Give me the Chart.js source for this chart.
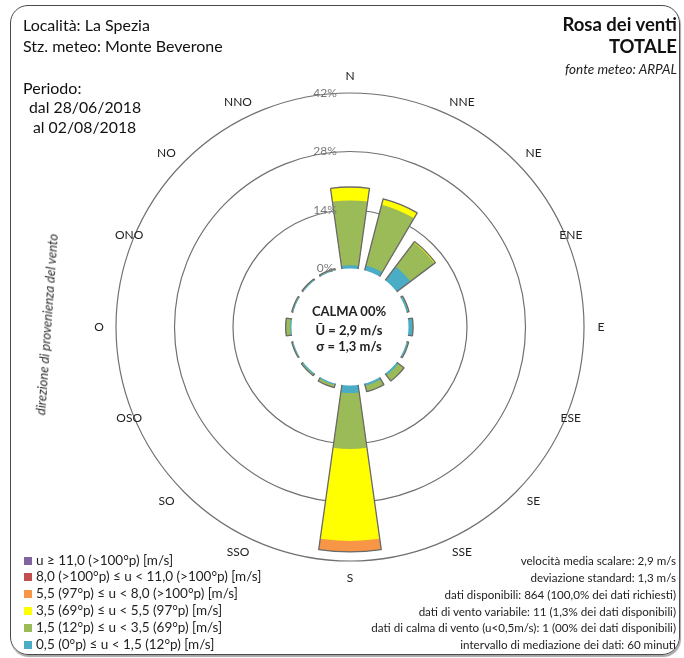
<!DOCTYPE html>
<html><head><meta charset="utf-8">
<script src="https://cdn.jsdelivr.net/npm/chart.js@4/dist/chart.umd.min.js"></script>
<style>
html,body{margin:0;padding:0;background:#fff;}
body{width:684px;height:658px;position:relative;overflow:hidden;font-family:Lato,"Noto Sans",sans-serif;color:#111;}
#frame{position:absolute;left:10px;top:5px;width:668px;height:648px;border:1.5px solid #4a4a4a;border-radius:18px;box-shadow:1px 2px 1px rgba(0,0,0,0.35);}
#c{position:absolute;left:0;top:0;}
.t{position:absolute;white-space:nowrap;line-height:1;}
.sq{display:inline-block;width:8px;height:8px;margin-right:4px;vertical-align:0px;}
</style></head><body>
<div id="frame"></div>
<canvas id="c" width="684" height="658"></canvas>
<div id="texts"></div>
<script>
// ---------- data ----------
const directions = ['N','NNE','NE','ENE','E','ESE','SE','SSE','S','SSO','SO','OSO','O','ONO','NO','NNO'];
const speed_05_15 = [0.8,1.2,4.1,0.4,1.0,0.3,0.5,0.5,1.8,0.3,0.3,0.2,0.3,0.2,0.2,0.2];
const speed_15_35 = [15.5,15.0,7.2,0.2,0.1,0.2,1.7,1.5,13.4,0.7,0.3,0.2,1.1,0.2,0.2,0.2];
const speed_35_55 = [3.2,1.5,0.3,0,0,0,0,0,22.0,0,0,0,0,0,0,0];
const speed_55_80 = [0,0,0,0,0,0,0,0,2.6,0,0,0,0,0,0,0];
const speed_80_110 = [0,0,0,0,0,0,0,0,0,0,0,0,0,0,0,0];
const speed_110 = [0,0,0,0,0,0,0,0,0,0,0,0,0,0,0,0];
const radialTicks = [0,14,28,42];
const classLabels = [
  'u \u2265 11,0 (>100\u00b0p) [m/s]',
  '8,0 (>100\u00b0p) \u2264 u < 11,0 (>100\u00b0p) [m/s]',
  '5,5 (97\u00b0p) \u2264 u < 8,0 (>100\u00b0p) [m/s]',
  '3,5 (69\u00b0p) \u2264 u < 5,5 (97\u00b0p) [m/s]',
  '1,5 (12\u00b0p) \u2264 u < 3,5 (69\u00b0p) [m/s]',
  '0,5 (0\u00b0p) \u2264 u < 1,5 (12\u00b0p) [m/s]'
];
const statsLines = [
  'velocit\u00e0 media scalare: 2,9 m/s',
  'deviazione standard: 1,3 m/s',
  'dati disponibili: 864 (100,0% dei dati richiesti)',
  'dati di vento variabile: 11 (1,3% dei dati disponibili)',
  'dati di calma di vento (u<0,5m/s): 1 (00% dei dati disponibili)',
  'intervallo di mediazione dei dati: 60 minuti'
];

// ---------- styles ----------
const classColors = ['#8064a2','#c0504d','#f79646','#ffff00','#9bbb59','#4bacc6']; // legend order (top->bottom)
const BAR_DEG = 16, GAP_DEG = 22.5 - 16;

// classes from slowest to fastest
const classes = [speed_05_15, speed_15_35, speed_35_55, speed_55_80, speed_80_110, speed_110];
const fillColors = ['#4bacc6','#9bbb59','#ffff00','#f79646','#c0504d','#8064a2'];

// cumulative (stacked) values, with empty slots between bars for angular gaps
function slots(arr){ const out=[]; arr.forEach(v=>{out.push(v); out.push(null);}); return out; }
const cumulative = [];
classes.forEach((c,k)=>{
  cumulative.push(c.map((v,i)=> classes.slice(0,k+1).reduce((s,a)=>s+a[i],0)));
});
const totals = cumulative[cumulative.length-1];

const labels = [];
directions.forEach(d=>{labels.push(d); labels.push('');});

const datasets = [{
  data: slots(totals), backgroundColor:'rgba(0,0,0,0)', borderColor:'#6a6a6a', borderWidth:1.3
}];
cumulative.forEach((cum,k)=>{
  datasets.push({data: slots(cum), backgroundColor: fillColors[k], borderWidth:0});
});

const rosePlugin = {
  id:'roseDecor',
  afterDatasetsDraw(chart){
    const s = chart.scales.r, ctx = chart.ctx;
    const r0 = s.getDistanceFromCenterForValue(0);
    ctx.save();
    ctx.beginPath(); ctx.arc(s.xCenter, s.yCenter, r0, 0, Math.PI*2);
    ctx.fillStyle = '#ffffff'; ctx.fill();
    ctx.restore();
  },
  afterDraw(chart){
    const s = chart.scales.r, ctx = chart.ctx;
    ctx.save();
    ctx.font = '12px Lato, "Noto Sans", sans-serif';
    ctx.fillStyle = '#7a7a7a';
    ctx.textAlign = 'center'; ctx.textBaseline = 'middle';
    radialTicks.forEach(v=>{
      ctx.fillText(v + '%', s.xCenter - 25, s.yCenter - s.getDistanceFromCenterForValue(v));
    });
    ctx.font = '12px Lato, "Noto Sans", sans-serif';
    ctx.fillStyle = '#222';
    directions.forEach((d,i)=>{
      let deg = i*22.5;
      const m = i % 8;
      let r = s.drawingArea + 17;
      if (m===3 || m===5) r = s.drawingArea + 5;           // ENE, ESE, OSO, ONO
      if (m===1 || m===7) {                                 // NNE, SSE, SSO, NNO: spread away from N-S axis
        const sideRight = (i < 8);
        const towardTop = (i < 4 || i > 12);
        deg += (sideRight === towardTop) ? 4 : -4;
      }
      if (m===2 || m===6) { deg += ((i < 8) === (i < 4 || i > 12)) ? 1.5 : -1.5; r += 2; }
      const a = deg*Math.PI/180;
      ctx.fillText(d, s.xCenter + r*Math.sin(a), s.yCenter - r*Math.cos(a));
    });
    ctx.restore();
  }
};

new Chart(document.getElementById('c'), {
  type:'polarArea',
  data:{labels, datasets},
  options:{
    responsive:false, animation:false,
    layout:{padding:{left:116,right:100,top:93,bottom:97}},
    datasets:{polarArea:{angle: ctx => (ctx.dataIndex % 2 === 0 ? BAR_DEG : GAP_DEG)}},
    plugins:{legend:{display:false}, tooltip:{enabled:false}},
    scales:{r:{
      min:-14, max:42, startAngle:-BAR_DEG/2,
      ticks:{stepSize:14, display:false},
      grid:{circular:true, color: ctx => (ctx.tick && ctx.tick.value > 0 ? '#707070' : 'rgba(0,0,0,0)'), lineWidth:1.2},
      angleLines:{display:false}, pointLabels:{display:false}
    }}
  },
  plugins:[rosePlugin]
});

// ---------- texts ----------
const T = document.getElementById('texts');
function put(text, x, base, size, opt={}){
  const d = document.createElement('div');
  d.className='t';
  d.textContent = text;
  d.style.fontSize = size+'px';
  d.style.top = (base - 0.887*size)+'px';
  if (opt.right) d.style.right = (684 - x)+'px';
  else if (opt.center) { d.style.left = x+'px'; d.style.transform='translateX(-50%)'; }
  else d.style.left = x+'px';
  if (opt.bold) d.style.fontWeight='bold';
  if (opt.italic) d.style.fontStyle='italic';
  if (opt.color) d.style.color = opt.color;
  T.appendChild(d);
  return d;
}
put('Localit\u00e0: La Spezia', 23, 31, 16);
put('Stz. meteo: Monte Beverone', 23, 52, 16);
put('Periodo:', 23, 94, 16);
put('dal 28/06/2018', 29, 113, 15.8);
put('al 02/08/2018', 33, 133, 15.8);
put('Rosa dei venti', 677, 31, 18.5, {right:true, bold:true});
put('TOTALE', 677, 53, 18.5, {right:true, bold:true});
put('fonte meteo: ARPAL', 677, 75, 13.5, {right:true, italic:true, color:'#222'});
put('CALMA 00%', 349, 317, 13, {center:true, bold:true, color:'#222'});
put('\u016a = 2,9 m/s', 349, 336, 13, {center:true, bold:true, color:'#222'});
put('\u03c3 = 1,3 m/s', 349, 352, 13, {center:true, bold:true, color:'#222'});
const v = put('direzione di provenienza del vento', 47, 330, 13, {center:true, italic:true, color:'#333'});
v.style.transform = 'translateX(-50%) rotate(-86deg)';

classLabels.forEach((l,i)=>{
  const d = put('', 24, 565.5 + i*16.8, 13.5, {color:'#222'});
  const sq = document.createElement('span'); sq.className='sq'; sq.style.background = classColors[i];
  d.appendChild(sq); d.appendChild(document.createTextNode(l));
});
statsLines.forEach((l,i)=>{
  put(l, 676, 565.5 + i*16.8, 11.6, {right:true, color:'#222'});
});
</script>
</body></html>
